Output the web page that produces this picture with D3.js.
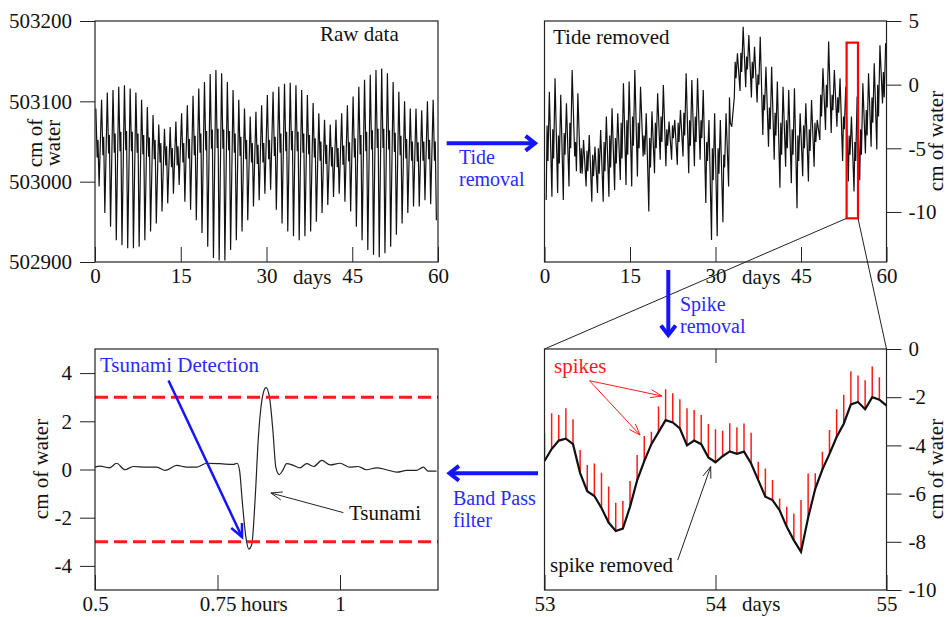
<!DOCTYPE html>
<html lang="en">
<head>
<meta charset="UTF-8">
<title>Tsunami detection from bottom pressure</title>
<style>
  body { margin: 0; background: #fff; }
  text { font-family: "Liberation Serif", "Times New Roman", serif; }
</style>
</head>
<body>
<div id="chart"></div>
<script src="https://d3js.org/d3.v7.min.js"></script>
<script>
// ---- values ----

// raw data: one tidal cycle per day (high, mid band low, mid band high, low)
var dayTicks = [0, 15, 30, 45, 60];
var rawTicks = [502900, 503000, 503100, 503200];
var rawHigh = [503091, 503102, 503111, 503114, 503118, 503120, 503116, 503111, 503102, 503093,
               503083, 503071, 503066, 503068, 503075, 503085, 503095, 503107, 503116, 503124,
               503134, 503139, 503135, 503124, 503114, 503102, 503091, 503081, 503087, 503095,
               503108, 503112, 503118, 503122, 503123, 503120, 503114, 503108, 503098, 503085,
               503077, 503071, 503077, 503085, 503095, 503106, 503118, 503127, 503133, 503139,
               503141, 503135, 503124, 503112, 503100, 503091, 503091, 503089, 503100, 503102];
var rawMidLow = [503030, 503033, 503035, 503036, 503038, 503039, 503038, 503036, 503034, 503031,
                 503028, 503024, 503020, 503018, 503020, 503024, 503029, 503033, 503036, 503039,
                 503041, 503042, 503041, 503039, 503036, 503032, 503028, 503024, 503022, 503024,
                 503028, 503032, 503036, 503038, 503039, 503038, 503036, 503034, 503030, 503026,
                 503022, 503019, 503018, 503021, 503025, 503030, 503034, 503038, 503040, 503042,
                 503042, 503040, 503037, 503033, 503029, 503026, 503025, 503026, 503028, 503026];
var rawMidHigh = [503052, 503056, 503058, 503060, 503062, 503063, 503062, 503060, 503058, 503055,
                  503052, 503048, 503044, 503042, 503044, 503048, 503053, 503057, 503060, 503063,
                  503065, 503066, 503065, 503063, 503060, 503056, 503052, 503048, 503046, 503048,
                  503052, 503056, 503060, 503062, 503063, 503062, 503060, 503058, 503054, 503050,
                  503046, 503043, 503042, 503045, 503049, 503054, 503058, 503062, 503064, 503066,
                  503066, 503064, 503061, 503057, 503053, 503050, 503049, 503050, 503052, 503050];
var rawLow = [502994, 502961, 502944, 502927, 502921, 502917, 502917, 502919, 502927, 502938,
              502948, 502963, 502973, 502985, 502996, 502975, 502965, 502952, 502936, 502919,
              502905, 502902, 502902, 502915, 502927, 502938, 502952, 502969, 502977, 502985,
              502990, 502965, 502948, 502938, 502932, 502927, 502932, 502938, 502950, 502961,
              502971, 502981, 502985, 502975, 502963, 502944, 502927, 502915, 502909, 502906,
              502911, 502919, 502934, 502948, 502961, 502969, 502969, 502977, 502972, 502952];

// tide removed: daily low, secondary high, secondary low, daily high
var residTicks = [5, 0, -5, -10];
var residHigh = [-0.55, 0.5, -0.8, -1.47, 1.15, -0.68, -4.35, -3.95, -4.87, -3.56,
                 -2.5, -1.86, -2.25, 0.1, 0.24, 1.15, -0.16, -2.25, -2.1, -0.68,
                 -0.03, -2.9, -2.77, -1.99, 0.9, 0.37, 0.5, -0.42, -2.77, -2.25,
                 -2.77, -2.25, -3.3, 2.46, 4.55, 3.9, 2.98, 3.77, 1.41, 1.41,
                 0.24, -0.16, -0.42, -0.29, -2.25, -1.47, -1.2, -2.77, 1.28, 3.38,
                 1.15, 0.5, -0.16, -2.5, -0.94, 0.1, 0.9, 1.68, 3.1, 3.25];
var residMidHigh = [-3.2, -3.5, -4.0, -3.8, -3.0, -4.5, -5.0, -5.2, -5.5, -5.0,
                    -4.5, -4.0, -4.2, -3.0, -2.8, -2.5, -3.0, -4.0, -4.2, -3.0,
                    -2.5, -3.5, -3.2, -3.0, -2.2, -2.8, -2.5, -2.8, -4.5, -5.0,
                    -5.0, -5.5, -1.0, 1.8, 2.5, 2.2, 1.8, 0.8, -0.8, -1.8,
                    -2.2, -3.0, -2.8, -3.5, -4.0, -3.2, -3.5, -3.0, -0.8, 0.0,
                    -0.8, -1.0, -2.5, -4.0, -4.5, -3.5, -2.0, -1.0, 0.0, 1.0];
var residMidLow = [-6.0, -5.8, -6.2, -5.5, -5.0, -6.8, -7.0, -6.8, -7.2, -7.0,
                   -6.8, -6.5, -6.2, -5.8, -5.5, -4.8, -5.0, -5.5, -6.5, -5.0,
                   -4.5, -4.8, -4.2, -4.5, -4.0, -4.8, -4.5, -4.2, -6.0, -7.5,
                   -7.0, -6.5, -3.0, 0.5, 1.0, 1.2, 0.5, 0.0, -2.0, -3.5,
                   -4.0, -5.5, -5.0, -5.5, -6.0, -5.0, -5.2, -4.5, -2.5, -1.8,
                   -2.0, -2.2, -3.5, -5.5, -6.0, -5.5, -4.0, -3.0, -2.5, -1.0];
var residLow = [-9.06, -8.8, -8.5, -9.06, -8.0, -5.65, -6.96, -8.0, -9.19, -8.5,
                -9.19, -8.8, -8.27, -7.49, -7.88, -8.0, -7.22, -5.65, -9.97, -6.96,
                -5.9, -6.4, -5.9, -6.3, -5.65, -6.96, -6.4, -5.9, -9.3, -12.2,
                -11.9, -10.8, -8.0, -1.0, -0.5, -0.2, -1.0, -1.4, -3.95, -4.87,
                -5.9, -8.1, -6.44, -7.75, -9.7, -7.2, -7.6, -6.44, -4.35, -3.56,
                -3.8, -3.3, -6.0, -7.6, -8.4, -7.5, -5.4, -4.87, -5.1, -1.47];

// zoom on days 53-55, hourly: spike removed level and spike tops
var zoomDayTicks = [53, 54, 55];
var zoomTicks = [0, -2, -4, -6, -8, -10];
var hourBase = [-4.65, -4.15, -3.8, -3.72, -3.95, -5.15, -5.9, -6.1, -6.6, -7.2,
                -7.55, -7.45, -6.55, -5.45, -4.65, -3.95, -3.45, -2.95, -3.05, -3.3,
                -4.0, -3.8, -3.95, -4.5, -4.7, -4.45, -4.25, -4.35, -4.26, -4.75,
                -5.44, -6.13, -6.27, -6.69, -7.38, -7.94, -8.42, -7.0, -5.8, -5.0,
                -4.35, -3.65, -3.1, -2.3, -2.2, -2.5, -2.0, -2.1, -2.35];
var spikeTop = [-3.5, -2.67, -2.74, -2.46, -2.92, -4.19, -4.81, -4.75, -5.13, -5.71,
                -6.38, -6.31, -5.48, -4.4, -3.61, -3.43, -2.39, -1.67, -1.84, -2.09,
                -2.46, -2.53, -2.74, -3.11, -3.33, -3.39, -3.08, -3.25, -3.09, -3.48,
                -4.68, -4.96, -5.44, -6.2, -6.55, -6.83, -6.27, -5.17, -5.16, -4.26,
                -3.36, -2.5, -1.9, -0.92, -1.1, -1.3, -0.73, -1.17];

// band pass filtered
var hourTicks = [0.5, 0.75, 1];
var bpTicks = [4, 2, 0, -2, -4];
var threshold = [3, -3];
var bpHours = [0.5, 0.51, 0.53, 0.544, 0.561, 0.578, 0.605, 0.626, 0.643, 0.667,
               0.687, 0.707, 0.728, 0.755, 0.782, 0.79, 0.795, 0.801, 0.808, 0.814,
               0.82, 0.827, 0.833, 0.844, 0.849, 0.856, 0.863, 0.869, 0.876, 0.883,
               0.891, 0.905, 0.918, 0.932, 0.946, 0.963, 0.98, 1.0, 1.02, 1.037,
               1.054, 1.075, 1.095, 1.116, 1.136, 1.156, 1.17, 1.18, 1.197];
var bpValue = [0.1, 0.14, 0.07, 0.26, -0.01, 0.125, 0.1, 0.1, -0.04, 0.17,
               0.1, 0.1, 0.26, 0.24, 0.21, 0.26, -0.04, -1.43, -2.82, -3.3,
               -3.1, -1.15, 1.2, 3.22, 3.4, 3.01, 1.63, 0.1, -0.21, -0.04,
               0.24, 0.17, 0.07, 0.24, 0.125, 0.375, 0.19, 0.26, 0.1, 0.125,
               -0.01, 0.07, -0.01, -0.11, -0.04, -0.04, 0.1, -0.07, -0.07];

// ---- drawing ----
var FONT = 21;
var BLUE = "#1414ff", BLUE_TXT = "#2a2aff", RED = "#ff1a1a";
var plain = function(d) { return String(d); };   // hyphen minus like the figure

var svg = d3.select("#chart").append("svg")
    .attr("width", 949)
    .attr("height", 617);

function panel(o) {
    var x = d3.scaleLinear().domain(o.xd).range([o.left, o.left + o.w]);
    var y = d3.scaleLinear().domain(o.yd).range([o.top + o.h, o.top]);
    return {x: x, y: y, left: o.left, top: o.top, w: o.w, h: o.h};
}

var P1 = panel({left: 95, top: 21, w: 343, h: 241, xd: [0, 60], yd: [502900, 503200]});
var P2 = panel({left: 544.5, top: 21, w: 342, h: 241, xd: [0, 60], yd: [-13.93, 5]});
var P3 = panel({left: 544.5, top: 349, w: 342, h: 241, xd: [53, 55], yd: [-10, 0]});
var P4 = panel({left: 95, top: 349, w: 343, h: 241, xd: [0.5, 1.2], yd: [-5, 5]});

function styleAxis(g) {
    g.select(".domain").remove();
    g.attr("font-family", "Liberation Serif, Times New Roman, serif")
     .attr("font-size", FONT)
     .attr("color", "#222");
    g.selectAll("text").attr("fill", "#111");
    g.selectAll("line").attr("stroke-width", 1);
}

function clipFor(id, p) {
    svg.append("clipPath").attr("id", id).append("rect")
        .attr("x", p.left).attr("y", p.top).attr("width", p.w).attr("height", p.h);
    return "url(#" + id + ")";
}

function frame(p) {
    svg.append("rect")
        .attr("x", p.left).attr("y", p.top)
        .attr("width", p.w).attr("height", p.h)
        .attr("fill", "none").attr("stroke", "#222").attr("stroke-width", 1.2);
}

function label(x, y, txt, color, rotate, size) {
    var t = svg.append("text")
        .attr("font-size", size || FONT)
        .attr("fill", color || "#111")
        .text(txt);
    if (rotate) {
        t.attr("transform", "translate(" + x + "," + y + ") rotate(-90)")
         .attr("text-anchor", "middle");
    } else {
        t.attr("x", x).attr("y", y);
    }
    return t;
}

function arrow(x1, y1, x2, y2, color, width, headLen, headDeg) {
    var a = Math.atan2(y2 - y1, x2 - x1);
    var h = headDeg * Math.PI / 180;
    svg.append("line")
        .attr("x1", x1).attr("y1", y1).attr("x2", x2).attr("y2", y2)
        .attr("stroke", color).attr("stroke-width", width);
    var pts = [
        [x2 - headLen * Math.cos(a - h), y2 - headLen * Math.sin(a - h)],
        [x2, y2],
        [x2 - headLen * Math.cos(a + h), y2 - headLen * Math.sin(a + h)]
    ];
    svg.append("path")
        .attr("d", d3.line()(pts))
        .attr("fill", "none").attr("stroke", color).attr("stroke-width", width)
        .attr("stroke-linejoin", "miter");
}

// Panel 1 : raw data
var rawPts = [];
rawHigh.forEach(function(v, d) {
    rawPts.push([d + 0.15, v]);
    rawPts.push([d + 0.38, rawMidLow[d]]);
    rawPts.push([d + 0.52, rawMidHigh[d]]);
    rawPts.push([d + 0.72, rawLow[d]]);
});
svg.append("path")
    .attr("clip-path", clipFor("c1", P1))
    .attr("d", d3.line().x(function(d) { return P1.x(d[0]); }).y(function(d) { return P1.y(d[1]); })(rawPts))
    .attr("fill", "none").attr("stroke", "#111").attr("stroke-width", 1.2);
frame(P1);
svg.append("g").attr("transform", "translate(0," + (P1.top + P1.h) + ")")
    .call(d3.axisBottom(P1.x).tickValues(dayTicks).tickSizeInner(-15).tickSizeOuter(0).tickPadding(6))
    .call(styleAxis);
svg.append("g").attr("transform", "translate(" + P1.left + ",0)")
    .call(d3.axisLeft(P1.y).tickValues(rawTicks).tickSize(15).tickPadding(8).tickFormat(d3.format("d")))
    .call(styleAxis);
label(320, 41, "Raw data");
label(293, 284, "days");
label(42, 143, "cm of", null, true);
label(60, 143, "water", null, true);

// Panel 2 : tide removed
var residPts = [];
residLow.forEach(function(v, d) {
    residPts.push([d + 0.3, v]);
    residPts.push([d + 0.45, residMidHigh[d]]);
    residPts.push([d + 0.6, residMidLow[d]]);
    residPts.push([d + 0.85, residHigh[d]]);
});
svg.append("path")
    .attr("clip-path", clipFor("c2", P2))
    .attr("d", d3.line().x(function(d) { return P2.x(d[0]); }).y(function(d) { return P2.y(d[1]); })(residPts))
    .attr("fill", "none").attr("stroke", "#111").attr("stroke-width", 1.2);
frame(P2);
svg.append("g").attr("transform", "translate(0," + (P2.top + P2.h) + ")")
    .call(d3.axisBottom(P2.x).tickValues(dayTicks).tickSizeInner(-15).tickSizeOuter(0).tickPadding(6))
    .call(styleAxis);
svg.append("g").attr("transform", "translate(" + (P2.left + P2.w) + ",0)")
    .call(d3.axisRight(P2.y).tickValues(residTicks).tickSize(15).tickPadding(7).tickFormat(plain))
    .call(styleAxis);
label(553, 44, "Tide removed");
label(742, 284, "days");
label(943, 141, "cm of water", null, true);

// zoom box and connecting lines
svg.append("rect")
    .attr("x", P2.x(53)).attr("y", P2.y(3.3))
    .attr("width", P2.x(55) - P2.x(53)).attr("height", P2.y(-10.5) - P2.y(3.3))
    .attr("fill", "none").attr("stroke", "#ff0000").attr("stroke-width", 2.2);
svg.append("line")
    .attr("x1", P2.x(53)).attr("y1", P2.y(-10.5)).attr("x2", P3.x(53)).attr("y2", P3.y(0))
    .attr("stroke", "#222").attr("stroke-width", 1);
svg.append("line")
    .attr("x1", P2.x(55)).attr("y1", P2.y(-10.5)).attr("x2", P3.x(55)).attr("y2", P3.y(0))
    .attr("stroke", "#222").attr("stroke-width", 1);

// Panel 3 : spikes
var c3 = clipFor("c3", P3);
svg.append("g").attr("clip-path", c3)
    .selectAll("line").data(spikeTop).enter().append("line")
    .attr("x1", function(d, i) { return P3.x(53 + i / 24); })
    .attr("x2", function(d, i) { return P3.x(53 + i / 24); })
    .attr("y1", function(d, i) { return P3.y(hourBase[i]); })
    .attr("y2", function(d) { return P3.y(d); })
    .attr("stroke", RED).attr("stroke-width", 1.5);
svg.append("path")
    .attr("clip-path", c3)
    .attr("d", d3.line().x(function(d, i) { return P3.x(53 + i / 24); }).y(function(d) { return P3.y(d); })(hourBase))
    .attr("fill", "none").attr("stroke", "#111").attr("stroke-width", 2.2);
frame(P3);
svg.append("g").attr("transform", "translate(0," + (P3.top + P3.h) + ")")
    .call(d3.axisBottom(P3.x).tickValues(zoomDayTicks).tickSizeInner(-15).tickSizeOuter(0).tickPadding(6)
        .tickFormat(d3.format("d")))
    .call(styleAxis);
svg.append("g").attr("transform", "translate(0," + P3.top + ")")
    .call(d3.axisTop(P3.x).tickValues([54]).tickSizeInner(-14).tickSizeOuter(0).tickFormat(function() { return ""; }))
    .call(styleAxis);
svg.append("g").attr("transform", "translate(" + (P3.left + P3.w) + ",0)")
    .call(d3.axisRight(P3.y).tickValues(zoomTicks).tickSize(15).tickPadding(7).tickFormat(plain))
    .call(styleAxis);
label(742, 611, "days");
label(943, 469, "cm of water", null, true);
label(554, 373, "spikes", RED);
arrow(P3.x(53.263), P3.y(-1.315), P3.x(53.686), P3.y(-1.95), RED, 1, 12, 20);
arrow(P3.x(53.263), P3.y(-1.315), P3.x(53.559), P3.y(-3.57), RED, 1, 12, 20);
label(550, 572, "spike removed");
arrow(P3.x(53.779), P3.y(-8.76), P3.x(53.972), P3.y(-4.88), "#222", 1, 12, 20);

// Panel 4 : band pass filtered
svg.append("path")
    .attr("clip-path", clipFor("c4", P4))
    .attr("d", d3.line().curve(d3.curveMonotoneX)
        .x(function(d, i) { return P4.x(bpHours[i]); })
        .y(function(d) { return P4.y(d); })(bpValue))
    .attr("fill", "none").attr("stroke", "#222").attr("stroke-width", 1.2);
svg.append("g").selectAll("line").data(threshold).enter().append("line")
    .attr("x1", P4.x(0.5)).attr("x2", P4.x(1.2))
    .attr("y1", function(d) { return P4.y(d); })
    .attr("y2", function(d) { return P4.y(d); })
    .attr("stroke", RED).attr("stroke-width", 3).attr("stroke-dasharray", "13,6");
frame(P4);
svg.append("g").attr("transform", "translate(0," + (P4.top + P4.h) + ")")
    .call(d3.axisBottom(P4.x).tickValues(hourTicks).tickSizeInner(-15).tickSizeOuter(0).tickPadding(6)
        .tickFormat(plain))
    .call(styleAxis);
svg.append("g").attr("transform", "translate(" + P4.left + ",0)")
    .call(d3.axisLeft(P4.y).tickValues(bpTicks).tickSize(15).tickPadding(8).tickFormat(plain))
    .call(styleAxis);
label(241, 611, "hours");
label(48, 469, "cm of water", null, true);
label(100, 372, "Tsunami Detection", BLUE_TXT);
arrow(P4.x(0.65), P4.y(3.69), P4.x(0.8), P4.y(-2.8), BLUE, 2.5, 14, 25);
label(349, 520, "Tsunami");
arrow(P4.x(1.007), P4.y(-1.79), P4.x(0.859), P4.y(-0.975), "#222", 1, 12, 20);

// processing arrows between panels
arrow(446.7, 143.3, 535, 143.3, BLUE, 4, 12, 38);
label(459, 164, "Tide", BLUE_TXT, false, 20);
label(459, 186, "removal", BLUE_TXT, false, 20);
arrow(668.3, 270, 668.3, 335, BLUE, 4, 12, 38);
label(680, 311, "Spike", BLUE_TXT, false, 20);
label(680, 333, "removal", BLUE_TXT, false, 20);
arrow(538, 473.3, 449.5, 473.3, BLUE, 4, 12, 38);
label(453, 505, "Band Pass", BLUE_TXT, false, 20);
label(453, 527, "filter", BLUE_TXT, false, 20);
</script>
</body>
</html>
